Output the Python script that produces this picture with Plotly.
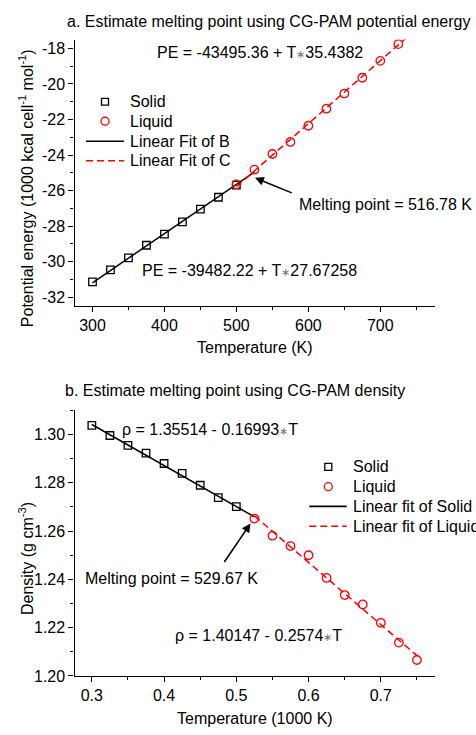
import plotly.graph_objects as go

# ---------------- data ----------------
pe_solid_T = [300, 325, 350, 375, 400, 425, 450, 475, 500]
pe_solid = [-31.13, -30.46, -29.78, -29.07, -28.44, -27.76, -27.04, -26.37, -25.69]
pe_liquid_T = [500, 525, 550, 575, 600, 625, 650, 675, 700, 725]
pe_liquid = [-25.65, -24.82, -23.94, -23.26, -22.35, -21.39, -20.54, -19.65, -18.70, -17.76]

rho_solid_T = [0.300, 0.325, 0.350, 0.375, 0.400, 0.425, 0.450, 0.475, 0.500]
rho_solid = [1.3038, 1.2996, 1.2955, 1.2923, 1.2880, 1.2839, 1.2790, 1.2739, 1.2701]
rho_liquid_T = [0.525, 0.550, 0.575, 0.600, 0.625, 0.650, 0.675, 0.700, 0.725, 0.750]
rho_liquid = [1.2652, 1.2581, 1.2538, 1.2500, 1.2406, 1.2335, 1.2296, 1.2220, 1.2138, 1.2066]

# linear fits (coefficients as printed on the chart; PE in kcal -> /1000)
pe_fit_solid = (-39482.22, 27.67258)
pe_fit_solid_T = [300, 525]
pe_fit_liquid = (-43495.36, 35.4382)
pe_fit_liquid_T = [500, 736]
rho_fit_solid = (1.35514, -0.16993)
rho_fit_solid_T = [0.300, 0.525]
rho_fit_liquid = (1.40147, -0.2574)
rho_fit_liquid_T = [0.525, 0.750]

pe_yticks = [-32, -30, -28, -26, -24, -22, -20, -18]
pe_yticktext = ["-32", "-30", "-28", "-26", "-24", "-22", "-20", "-18"]
pe_xticks = [300, 400, 500, 600, 700]
rho_yticks = [1.20, 1.22, 1.24, 1.26, 1.28, 1.30]
rho_yticktext = ["1.20", "1.22", "1.24", "1.26", "1.28", "1.30"]
rho_xticks = [0.3, 0.4, 0.5, 0.6, 0.7]
rho_xticktext = ["0.3", "0.4", "0.5", "0.6", "0.7"]

W, H = 476, 735
FONT = "Liberation Sans, Arial, sans-serif"
RED = "#ff0000"


def px(x):
    return x / W


def py(y):
    return 1 - y / H


def fit_line(coef, ts, scale=1.0):
    a, b = coef
    return [(a + b * t) * scale for t in ts]


fig = go.Figure()

# ---- top chart ----
fig.add_trace(go.Scatter(x=pe_fit_solid_T, y=fit_line(pe_fit_solid, pe_fit_solid_T, 1e-3),
                         mode="lines", line=dict(color="black", width=1.5),
                         xaxis="x", yaxis="y", showlegend=False))
fig.add_trace(go.Scatter(x=pe_fit_liquid_T, y=fit_line(pe_fit_liquid, pe_fit_liquid_T, 1e-3),
                         mode="lines", line=dict(color=RED, width=1.5, dash="7px,4px"),
                         xaxis="x", yaxis="y", showlegend=False))
fig.add_trace(go.Scatter(x=pe_solid_T, y=pe_solid, mode="markers",
                         marker=dict(symbol="square-open", size=7.5, color="black", line=dict(width=1.3)),
                         xaxis="x", yaxis="y", showlegend=False))
fig.add_trace(go.Scatter(x=pe_liquid_T, y=pe_liquid, mode="markers",
                         marker=dict(symbol="circle-open", size=8.5, color=RED, line=dict(width=1.3)),
                         xaxis="x", yaxis="y", showlegend=False))

# ---- bottom chart ----
fig.add_trace(go.Scatter(x=rho_fit_solid_T, y=fit_line(rho_fit_solid, rho_fit_solid_T),
                         mode="lines", line=dict(color="black", width=1.5),
                         xaxis="x2", yaxis="y2", showlegend=False))
fig.add_trace(go.Scatter(x=rho_fit_liquid_T, y=fit_line(rho_fit_liquid, rho_fit_liquid_T),
                         mode="lines", line=dict(color=RED, width=1.5, dash="7px,4px"),
                         xaxis="x2", yaxis="y2", showlegend=False))
fig.add_trace(go.Scatter(x=rho_solid_T, y=rho_solid, mode="markers",
                         marker=dict(symbol="square-open", size=7.5, color="black", line=dict(width=1.3)),
                         xaxis="x2", yaxis="y2", showlegend=False))
fig.add_trace(go.Scatter(x=rho_liquid_T, y=rho_liquid, mode="markers",
                         marker=dict(symbol="circle-open", size=8.5, color=RED, line=dict(width=1.3)),
                         xaxis="x2", yaxis="y2", showlegend=False))

axis_common = dict(showline=True, linecolor="black", linewidth=1.3, showgrid=False,
                   zeroline=False, ticks="outside", ticklen=5, tickwidth=1, tickcolor="black",
                   tickfont=dict(family=FONT, size=16, color="black"), mirror=False)

x_dom = [px(74.5), px(435)]
fig.update_layout(
    width=W, height=H, margin=dict(l=0, r=0, t=0, b=0),
    paper_bgcolor="white", plot_bgcolor="white", showlegend=False,
    font=dict(family=FONT, size=16, color="black"),
    xaxis=dict(axis_common, domain=x_dom, anchor="y", range=[275, 776],
               tickmode="array", tickvals=pe_xticks,
               minor=dict(tick0=250, dtick=50, ticklen=3, ticks="outside", tickcolor="black")),
    yaxis=dict(axis_common, domain=[py(309.3), py(40)], anchor="x", range=[-32.46, -17.5],
               tickmode="array", tickvals=pe_yticks, ticktext=pe_yticktext,
               minor=dict(tick0=-33, dtick=1, ticklen=3, ticks="outside", tickcolor="black")),
    xaxis2=dict(axis_common, domain=x_dom, anchor="y2", range=[0.276, 0.775],
                tickmode="array", tickvals=rho_xticks, ticktext=rho_xticktext,
                minor=dict(tick0=0.25, dtick=0.05, ticklen=3, ticks="outside", tickcolor="black")),
    yaxis2=dict(axis_common, domain=[py(684.3), py(415)], anchor="x2", range=[1.20, 1.3102],
                tickmode="array", tickvals=rho_yticks, ticktext=rho_yticktext,
                minor=dict(tick0=1.19, dtick=0.01, ticklen=3, ticks="outside", tickcolor="black")),
)

annotations = []
shapes = []


def text(x, y, s, xanchor="center", angle=0, size=16):
    annotations.append(dict(xref="paper", yref="paper", x=px(x), y=py(y), text=s,
                            showarrow=False, xanchor=xanchor, yanchor="middle",
                            textangle=angle, font=dict(family=FONT, size=size, color="black")))


def arrow(tail, head):
    annotations.append(dict(xref="paper", yref="paper", x=px(head[0]), y=py(head[1]), text="",
                            showarrow=True, ax=tail[0] - head[0], ay=tail[1] - head[1],
                            arrowhead=2, arrowsize=1.1, arrowwidth=1.6, arrowcolor="black"))


AST = "<span style='color:#707070;font-size:11px'>∗</span>"

# titles
text(268, 22, "a. Estimate melting point using CG-PAM potential energy")
text(234.5, 395, "b. Estimate melting point using CG-PAM density")
# axis titles
text(254.5, 351.5, "Temperature (K)")
text(254.5, 727.5, "Temperature (1000 K)")
text(26, 190.5, "Potential energy (1000 kcal cell<sup>-1</sup> mol<sup>-1</sup>)", angle=-90)
text(26, 566, "Density (g cm<sup>-3</sup>)", angle=-90)

# top annotations
text(260, 53.5, "PE = -43495.36 + T" + AST + "35.4382")
text(249, 274, "PE = -39482.22 + T" + AST + "27.67258")
text(296.5, 207, "Melting point = 516.78 K", xanchor="left")
arrow((293.3, 195.7), (255, 180))

# bottom annotations
text(120, 435, "ρ = 1.35514 - 0.16993" + AST + "T", xanchor="left")
text(82.5, 586, "Melting point = 529.67 K", xanchor="left")
arrow((223.3, 570), (250.5, 530))
text(173, 643.5, "ρ = 1.40147 - 0.2574" + AST + "T", xanchor="left")


# manual legends
def leg_square(cx, cy, s=7):
    shapes.append(dict(type="rect", xref="paper", yref="paper",
                       x0=px(cx - s / 2), x1=px(cx + s / 2), y0=py(cy + s / 2), y1=py(cy - s / 2),
                       line=dict(color="black", width=1.3)))


def leg_circle(cx, cy, s=8):
    shapes.append(dict(type="circle", xref="paper", yref="paper",
                       x0=px(cx - s / 2), x1=px(cx + s / 2), y0=py(cy + s / 2), y1=py(cy - s / 2),
                       line=dict(color=RED, width=1.3)))


def leg_line(x0, x1, y, color, dash="solid"):
    shapes.append(dict(type="line", xref="paper", yref="paper",
                       x0=px(x0), x1=px(x1), y0=py(y), y1=py(y),
                       line=dict(color=color, width=1.6, dash=dash)))


top_legend = ["Solid", "Liquid", "Linear Fit of B", "Linear Fit of C"]
top_rows = [103.0, 122.7, 143.0, 162.7]
leg_square(105, top_rows[0])
leg_circle(105, top_rows[1])
leg_line(86, 124, top_rows[2], "black")
leg_line(86, 124, top_rows[3], RED, "7px,4px")
for lab, yy in zip(top_legend, top_rows):
    text(128.3, yy, lab, xanchor="left")

bot_legend = ["Solid", "Liquid", "Linear fit of Solid", "Linear fit of Liquid"]
bot_rows = [472.7, 492.7, 512.7, 532.7]
leg_square(328.3, bot_rows[0])
leg_circle(328.3, bot_rows[1])
leg_line(309.3, 346.7, bot_rows[2], "black")
leg_line(309.3, 346.7, bot_rows[3], RED, "7px,4px")
for lab, yy in zip(bot_legend, bot_rows):
    text(350.7, yy, lab, xanchor="left")

fig.update_layout(annotations=annotations, shapes=shapes)

fig.write_html("out.html")
